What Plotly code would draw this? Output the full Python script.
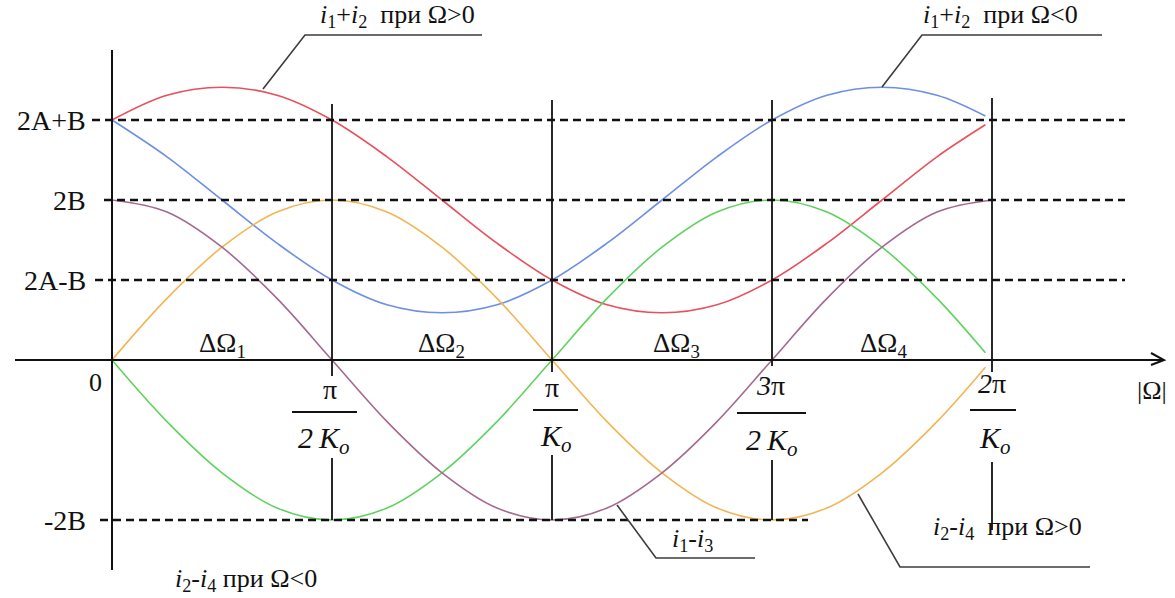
import plotly.graph_objects as go

# Sample positions along |Ω|, in units of π/K_o (0 … 2π/K_o)
x_pts = [0, 0.125, 0.25, 0.375, 0.5, 0.625, 0.75, 0.875, 1.0,
         1.125, 1.25, 1.375, 1.5, 1.625, 1.75, 1.875, 1.985]
x_full = [0, 0.125, 0.25, 0.375, 0.5, 0.625, 0.75, 0.875, 1.0,
          1.125, 1.25, 1.375, 1.5, 1.625, 1.75, 1.875, 2.0]

# Currents (A = B = 1)
sum_pos = [3.00, 3.31, 3.41, 3.31, 3.00, 2.54, 2.00, 1.46, 1.00,
           0.69, 0.59, 0.69, 1.00, 1.46, 2.00, 2.54, 2.94]      # i1+i2, Ω>0
sum_neg = [3.00, 2.54, 2.00, 1.46, 1.00, 0.69, 0.59, 0.69, 1.00,
           1.46, 2.00, 2.54, 3.00, 3.31, 3.41, 3.31, 3.05]      # i1+i2, Ω<0
diff24_pos = [0.00, 0.77, 1.41, 1.85, 2.00, 1.85, 1.41, 0.77, 0.00,
              -0.77, -1.41, -1.85, -2.00, -1.85, -1.41, -0.77, -0.09]  # i2-i4, Ω>0
diff24_neg = [0.00, -0.77, -1.41, -1.85, -2.00, -1.85, -1.41, -0.77, 0.00,
              0.77, 1.41, 1.85, 2.00, 1.85, 1.41, 0.77, 0.09]        # i2-i4, Ω<0
diff13 = [2.00, 1.85, 1.41, 0.77, 0.00, -0.77, -1.41, -1.85, -2.00,
          -1.85, -1.41, -0.77, 0.00, 0.77, 1.41, 1.85, 2.00]          # i1-i3

# Reference levels and their labels
levels = [3, 2, 1, -2]
level_labels = ["2A+B", "2B", "2A-B", "-2B"]

# Interval marks on |Ω| and their fraction labels
tick_x = [0.5, 1.0, 1.5, 2.0]
tick_num = ["π", "π", "<i>3</i>π", "<i>2</i>π"]
tick_den = ["<i>2\u2009K</i><sub><i>o</i></sub>", "<i>K</i><sub><i>o</i></sub>",
            "<i>2\u2009K</i><sub><i>o</i></sub>", "<i>K</i><sub><i>o</i></sub>"]
intervals = ["ΔΩ<sub>1</sub>", "ΔΩ<sub>2</sub>", "ΔΩ<sub>3</sub>", "ΔΩ<sub>4</sub>"]

W, H = 1175, 598
X0, SX = 112, 440      # pixel of |Ω| = 0, pixels per π/K_o
Y0, SY = 360, 80       # pixel of zero level, pixels per unit


def dx(p):
    return (p - X0) / SX


def dy(p):
    return (Y0 - p) / SY


FONT = "Liberation Serif"
BLACK = "#111111"

fig = go.Figure()

curves = [
    (x_pts, sum_pos, "#e8505c"),
    (x_pts, sum_neg, "#6e8fe2"),
    (x_pts, diff24_pos, "#f2b553"),
    (x_pts, diff24_neg, "#5fd35f"),
    (x_full, diff13, "#a4698f"),
]
for xs, ys, col in curves:
    fig.add_trace(go.Scatter(x=xs, y=ys, mode="lines",
                             line=dict(color=col, width=1.6, shape="spline", smoothing=1.0),
                             hoverinfo="skip", showlegend=False))

shapes = []
ann = []

# axes
shapes.append(dict(type="line", x0=dx(15), x1=dx(1163), y0=0, y1=0,
                   line=dict(color=BLACK, width=2.2)))
shapes.append(dict(type="path",
                   path=f"M {dx(1151)} {dy(353)} L {dx(1164)} 0 L {dx(1151)} {dy(365)}",
                   line=dict(color=BLACK, width=2)))
shapes.append(dict(type="line", x0=0, x1=0, y0=dy(50), y1=dy(570),
                   line=dict(color=BLACK, width=2)))

# dashed reference levels
dash_span = {3: (92, 1125), 2: (104, 1125), 1: (95, 1125), -2: (100, 808)}
for lv, lab in zip(levels, level_labels):
    a, b = dash_span[lv]
    shapes.append(dict(type="line", x0=dx(a), x1=dx(b), y0=lv, y1=lv,
                       line=dict(color=BLACK, width=2.4, dash="8px,5px")))
    ann.append(dict(x=dx(88), y=lv, text=lab, xanchor="right", yanchor="middle",
                    showarrow=False, font=dict(family=FONT, size=28, color=BLACK)))

# vertical marks and fraction labels
top_px = {0.5: 104, 1.0: 100, 1.5: 100, 2.0: 98}
bot_px = {0.5: 376, 1.0: 372, 1.5: 366, 2.0: 372}
stub_px = {0.5: (458, 520), 1.0: (455, 520), 1.5: (460, 520), 2.0: (462, 530)}
num_pos = {0.5: (330, 389), 1.0: (552, 387), 1.5: (770, 385), 2.0: (992, 383)}
bar_pos = {0.5: (292, 357, 412), 1.0: (533, 578, 410), 1.5: (737, 806, 413), 2.0: (970, 1016, 410)}
den_pos = {0.5: (324, 440), 1.0: (556, 438), 1.5: (772, 442), 2.0: (995, 440)}
for tx, num, den in zip(tick_x, tick_num, tick_den):
    shapes.append(dict(type="line", x0=tx, x1=tx, y0=dy(top_px[tx]), y1=dy(bot_px[tx]),
                       line=dict(color=BLACK, width=1.8)))
    s0, s1 = stub_px[tx]
    shapes.append(dict(type="line", x0=tx, x1=tx, y0=dy(s0), y1=dy(s1),
                       line=dict(color=BLACK, width=1.8)))
    b0, b1, by = bar_pos[tx]
    shapes.append(dict(type="line", x0=dx(b0), x1=dx(b1), y0=dy(by), y1=dy(by),
                       line=dict(color=BLACK, width=1.8)))
    nx, ny = num_pos[tx]
    ann.append(dict(x=dx(nx), y=dy(ny), text=num, showarrow=False,
                    xanchor="center", yanchor="middle",
                    font=dict(family=FONT, size=28, color=BLACK)))
    ex, ey = den_pos[tx]
    ann.append(dict(x=dx(ex), y=dy(ey), text=den, showarrow=False,
                    xanchor="center", yanchor="middle",
                    font=dict(family=FONT, size=30, color=BLACK)))

# zero and axis name
ann.append(dict(x=dx(95), y=dy(382), text="0", showarrow=False,
                font=dict(family=FONT, size=26, color=BLACK)))
ann.append(dict(x=dx(1152), y=dy(390), text="|Ω|", showarrow=False,
                font=dict(family=FONT, size=26, color=BLACK)))

# interval labels
for cx, txt in zip([222, 441, 676, 883], intervals):
    ann.append(dict(x=dx(cx), y=dy(345), text=txt, showarrow=False,
                    xanchor="center", yanchor="middle",
                    font=dict(family=FONT, size=27, color=BLACK)))

# curve callouts with leader lines
LEAD = "#3c3c3c"
callouts = [
    ("<i>i</i><sub>1</sub>+<i>i</i><sub>2</sub>\u00a0\u00a0при Ω&gt;0", (397, 16),
     [(263, 89), (305, 35), (482, 35)]),
    ("<i>i</i><sub>1</sub>+<i>i</i><sub>2</sub>\u00a0\u00a0при Ω&lt;0", (1000, 16),
     [(882, 87), (922, 35), (1102, 35)]),
    ("<i>i</i><sub>1</sub>-<i>i</i><sub>3</sub>", (692, 540),
     [(617, 505), (656, 558), (755, 558)]),
    ("<i>i</i><sub>2</sub>-<i>i</i><sub>4</sub>\u00a0\u00a0при Ω&gt;0", (1007, 528),
     [(858, 494), (900, 567), (1090, 567)]),
    ("<i>i</i><sub>2</sub>-<i>i</i><sub>4</sub> при Ω&lt;0", (246, 580), None),
]
for txt, (tx, ty), pts in callouts:
    ann.append(dict(x=dx(tx), y=dy(ty), text=txt, showarrow=False,
                    xanchor="center", yanchor="middle",
                    font=dict(family=FONT, size=26, color=BLACK)))
    if pts:
        path = "M " + " L ".join(f"{dx(px)} {dy(py)}" for px, py in pts)
        shapes.append(dict(type="path", path=path, line=dict(color=LEAD, width=1.6)))

fig.update_layout(
    width=W, height=H, autosize=False,
    margin=dict(l=0, r=0, t=0, b=0, pad=0),
    paper_bgcolor="white", plot_bgcolor="white",
    xaxis=dict(range=[dx(0), dx(W)], visible=False, fixedrange=True),
    yaxis=dict(range=[dy(H), dy(0)], visible=False, fixedrange=True),
    shapes=shapes, annotations=ann, showlegend=False,
)

fig.write_html("out.html")
